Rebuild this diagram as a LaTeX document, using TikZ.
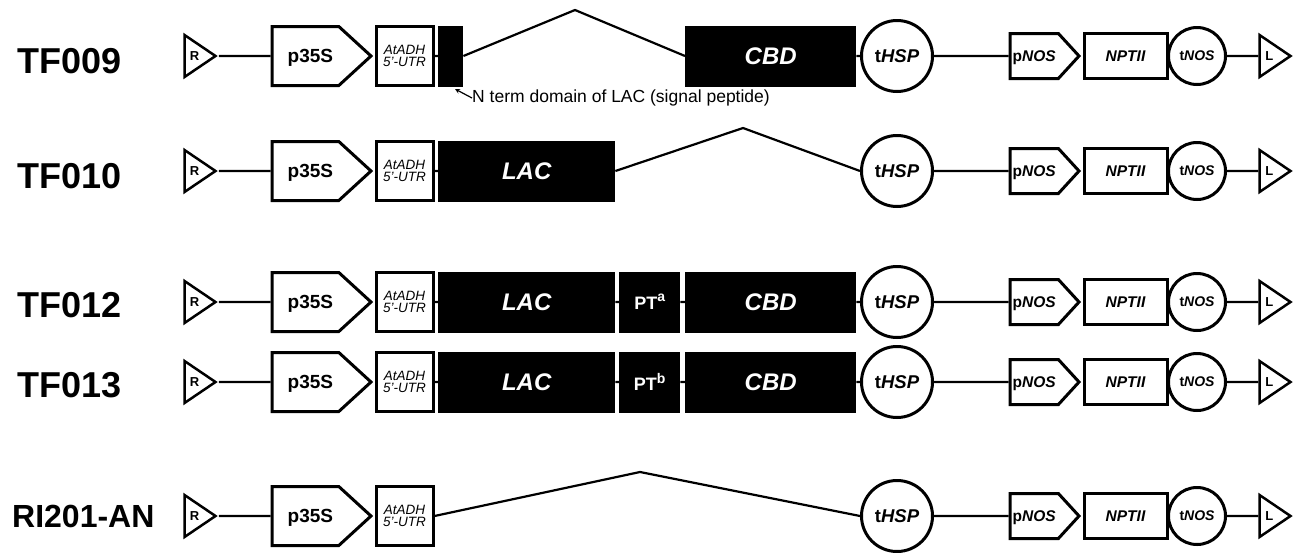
\documentclass[tikz,border=0pt]{standalone}
\usepackage{fontspec}
\setmainfont{Liberation Sans}
\usetikzlibrary{shapes.geometric, shapes.symbols}

\begin{document}
\begin{tikzpicture}[
    x=1pt, y=-1pt,
    rowlabel/.style={anchor=west, inner sep=0, font=\fontsize{36}{36}\selectfont\bfseries},
    wire/.style={line width=2.2pt},
    border/.style={draw=black, line width=3pt, fill=white, inner sep=0, text depth=0pt},
    bordertri/.style={draw=black, line width=2.5pt, fill=white, inner sep=0, text depth=0pt,
        isosceles triangle, isosceles triangle stretches, minimum width=42, minimum height=31,
        anchor=west, font=\fontsize{13}{13}\selectfont\bfseries},
    prom/.style={border, signal, signal to=east, signal pointer angle=85,
        minimum width=99, minimum height=59, anchor=west, font=\fontsize{19}{19}\selectfont\bfseries,
        execute at begin node=\hspace*{10pt}},
    utr/.style={border, rectangle, minimum width=57, minimum height=59, anchor=west, align=center,
        font=\fontsize{13.5}{12.5}\selectfont\itshape},
    exon/.style={fill=black, text=white, inner sep=0, text depth=0pt, minimum height=61, anchor=west,
        font=\fontsize{24}{24}\selectfont\bfseries\itshape},
    pt/.style={exon, minimum width=61, font=\fontsize{18}{18}\selectfont\bfseries},
    term/.style={border, circle, minimum size=71, font=\fontsize{18.5}{18.5}\selectfont\bfseries},
    nosprom/.style={border, signal, signal to=east, signal pointer angle=95,
        minimum width=69, minimum height=45, anchor=west, font=\fontsize{15.5}{15.5}\selectfont\bfseries},
    marker/.style={border, rectangle, minimum width=83, minimum height=45, anchor=west,
        font=\fontsize{15.5}{15.5}\selectfont\bfseries\itshape},
    nosterm/.style={border, circle, minimum size=57, font=\fontsize{14}{14}\selectfont\bfseries}
]
\useasboundingbox (0,0) rectangle (1303,552);

   % TF009
   \node[rowlabel] (lab1) at (17,61) {TF009};
   \node[bordertri] (R1) at (183.25,56) {R};
   \node[prom] (p1) at (270.5,56) {p35S};
   \node[utr] (u1) at (374.5,56) {\textit{AtADH}\\5'-UTR};
   \node[exon, minimum width=25] (sp1) at (438,56) {};
   \coordinate (pk1) at (575,10);
   \node[exon, minimum width=171] (cbd1) at (685,56) {CBD};
   \node[term] (t1) at (897,56) {t\textit{HSP}};
   \node[nosprom] (n1) at (1008.5,56) {p\textit{NOS}};
   \node[marker] (m1) at (1082.5,56) {NPTII};
   \node[nosterm] (tn1) at (1197,56) {t\textit{NOS}};
   \node[bordertri] (L1) at (1258.25,56) {L};
   \node[anchor=west, inner sep=0, font=\fontsize{17.5}{17.5}\selectfont] (note) at (472,98)
        {N term domain of LAC (signal peptide)};
   \coordinate (ntip) at (455,89);
   \draw[line width=1.2pt, -stealth] (note.west) -- (ntip);

   % TF010
   \node[rowlabel] (lab2) at (17,176) {TF010};
   \node[bordertri] (R2) at (183.25,171) {R};
   \node[prom] (p2) at (270.5,171) {p35S};
   \node[utr] (u2) at (374.5,171) {\textit{AtADH}\\5'-UTR};
   \node[exon, minimum width=177] (lac2) at (438,171) {LAC};
   \coordinate (pk2) at (743,128);
   \node[term] (t2) at (897,171) {t\textit{HSP}};
   \node[nosprom] (n2) at (1008.5,171) {p\textit{NOS}};
   \node[marker] (m2) at (1082.5,171) {NPTII};
   \node[nosterm] (tn2) at (1197,171) {t\textit{NOS}};
   \node[bordertri] (L2) at (1258.25,171) {L};

   % TF012
   \node[rowlabel] (lab3) at (17,305) {TF012};
   \node[bordertri] (R3) at (183.25,302) {R};
   \node[prom] (p3) at (270.5,302) {p35S};
   \node[utr] (u3) at (374.5,302) {\textit{AtADH}\\5'-UTR};
   \node[exon, minimum width=177] (lac3) at (438,302) {LAC};
   \node[pt] (pt3) at (619,302) {PT\raisebox{0.42em}{\fontsize{14}{14}\selectfont a}};
   \node[exon, minimum width=171] (cbd3) at (685,302) {CBD};
   \node[term] (t3) at (897,302) {t\textit{HSP}};
   \node[nosprom] (n3) at (1008.5,302) {p\textit{NOS}};
   \node[marker] (m3) at (1082.5,302) {NPTII};
   \node[nosterm] (tn3) at (1197,302) {t\textit{NOS}};
   \node[bordertri] (L3) at (1258.25,302) {L};

   % TF013
   \node[rowlabel] (lab4) at (17,385) {TF013};
   \node[bordertri] (R4) at (183.25,382) {R};
   \node[prom] (p4) at (270.5,382) {p35S};
   \node[utr] (u4) at (374.5,382) {\textit{AtADH}\\5'-UTR};
   \node[exon, minimum width=177] (lac4) at (438,382) {LAC};
   \node[pt] (pt4) at (619,382) {PT\raisebox{0.42em}{\fontsize{14}{14}\selectfont b}};
   \node[exon, minimum width=171] (cbd4) at (685,382) {CBD};
   \node[term] (t4) at (897,382) {t\textit{HSP}};
   \node[nosprom] (n4) at (1008.5,382) {p\textit{NOS}};
   \node[marker] (m4) at (1082.5,382) {NPTII};
   \node[nosterm] (tn4) at (1197,382) {t\textit{NOS}};
   \node[bordertri] (L4) at (1258.25,382) {L};

   % RI201-AN
   \node[rowlabel, font=\fontsize{32}{32}\selectfont\bfseries] (lab5) at (12,516) {RI201-AN};
   \node[bordertri] (R5) at (183.25,516) {R};
   \node[prom] (p5) at (270.5,516) {p35S};
   \node[utr] (u5) at (374.5,516) {\textit{AtADH}\\5'-UTR};
   \coordinate (pk5) at (640,472);
   \node[term] (t5) at (897,516) {t\textit{HSP}};
   \node[nosprom] (n5) at (1008.5,516) {p\textit{NOS}};
   \node[marker] (m5) at (1082.5,516) {NPTII};
   \node[nosterm] (tn5) at (1197,516) {t\textit{NOS}};
   \node[bordertri] (L5) at (1258.25,516) {L};

   % Backbone
   \draw[wire] (R1.apex) -- (p1.west) (u1.east) -- (sp1.west) (sp1.east) -- (pk1) -- (cbd1.west)
        (cbd1.east) -- (t1.west) (t1.east) -- (n1.west) (tn1.east) -- (L1.west);
   \draw[wire] (R2.apex) -- (p2.west) (u2.east) -- (lac2.west) (lac2.east) -- (pk2) -- (t2.west)
        (t2.east) -- (n2.west) (tn2.east) -- (L2.west);
   \draw[wire] (R3.apex) -- (p3.west) (u3.east) -- (lac3.west) (lac3.east) -- (pt3.west)
        (pt3.east) -- (cbd3.west) (cbd3.east) -- (t3.west) (t3.east) -- (n3.west) (tn3.east) -- (L3.west);
   \draw[wire] (R4.apex) -- (p4.west) (u4.east) -- (lac4.west) (lac4.east) -- (pt4.west)
        (pt4.east) -- (cbd4.west) (cbd4.east) -- (t4.west) (t4.east) -- (n4.west) (tn4.east) -- (L4.west);
   \draw[wire] (R5.apex) -- (p5.west) (u5.east) -- (pk5) -- (t5.west)
        (t5.east) -- (n5.west) (tn5.east) -- (L5.west);

\end{tikzpicture}
\end{document}
